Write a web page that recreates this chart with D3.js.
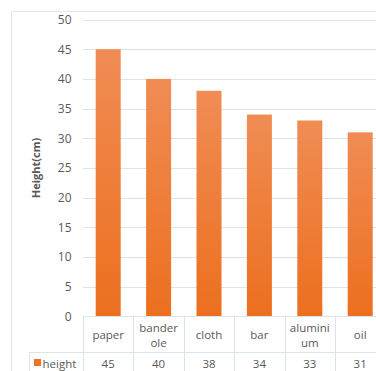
<!DOCTYPE html>
<html><head><meta charset="utf-8">
<script src="https://cdn.jsdelivr.net/npm/d3@7"></script>
<style>html,body{margin:0;padding:0;background:#fff;overflow:hidden}</style>
</head><body>
<svg id="c" width="376" height="371"></svg>
<script>
const categories = ["paper", "banderole", "cloth", "bar", "aluminium", "oil"];
const categoryLines = [["paper"], ["bander", "ole"], ["cloth"], ["bar"], ["alumini", "um"], ["oil"]];
const heights = [45, 40, 38, 34, 33, 31];
const yTicks = [0, 5, 10, 15, 20, 25, 30, 35, 40, 45, 50];
const seriesName = "height";
const yTitle = "Height(cm)";

const svg = d3.select("#c");
const font = "'Open Sans', sans-serif";
const textCol = "#595959";
const gridCol = "#dde3ea";

const defs = svg.append("defs");
const g = defs.append("linearGradient").attr("id", "barGrad").attr("x1", 0).attr("y1", 0).attr("x2", 0).attr("y2", 1);
g.append("stop").attr("offset", "0%").attr("stop-color", "#f08c54");
g.append("stop").attr("offset", "100%").attr("stop-color", "#ec6f1e");

// outer border
svg.append("rect").attr("x", 11.5).attr("y", 11.5).attr("width", 380).attr("height", 380)
  .attr("fill", "none").attr("stroke", "#e3e6ea");

const x = d3.scaleBand().domain(categories).range([83, 83 + 50.4 * 6]).paddingInner(0).paddingOuter(0);
const y = d3.scaleLinear().domain([0, 50]).range([316.5, 19.5]);

// gridlines
svg.append("g").selectAll("line").data(yTicks.filter(d => d > 0)).join("line")
  .attr("x1", 83).attr("x2", 376).attr("y1", d => Math.round(y(d)) + 0.5).attr("y2", d => Math.round(y(d)) + 0.5)
  .attr("stroke", gridCol);

// y axis labels
const yAxis = d3.axisLeft(y).tickValues(yTicks).tickSize(0).tickPadding(0);
const ya = svg.append("g").attr("transform", "translate(71.5,0)").call(yAxis);
ya.select(".domain").remove();
ya.selectAll("text").attr("font-family", font).attr("font-size", 12).attr("fill", textCol);

// bars
const bw = 25;
svg.append("g").selectAll("rect").data(heights).join("rect")
  .attr("x", (d, i) => x(categories[i]) + (x.bandwidth() - bw) / 2)
  .attr("y", d => y(d))
  .attr("width", bw)
  .attr("height", d => y(0) - y(d))
  .attr("fill", "url(#barGrad)");

// table lines
const tbl = svg.append("g").attr("stroke", gridCol).attr("fill", "none");
tbl.append("line").attr("x1", 83).attr("x2", 376).attr("y1", 316.5).attr("y2", 316.5);
tbl.append("line").attr("x1", 29).attr("x2", 376).attr("y1", 352.5).attr("y2", 352.5);
tbl.append("line").attr("x1", 29.5).attr("x2", 29.5).attr("y1", 352).attr("y2", 371);
categories.forEach((c, i) => {
  const xx = Math.round(x(c)) + 0.5;
  tbl.append("line").attr("x1", xx).attr("x2", xx).attr("y1", 316).attr("y2", 371);
});

// category labels
const cl = svg.append("g");
categories.forEach((c, i) => {
  const lines = categoryLines[i];
  const cx = x(c) + x.bandwidth() / 2;
  const t = cl.append("text").attr("x", cx).attr("text-anchor", "middle")
    .attr("font-family", font).attr("font-size", 11.5).attr("fill", textCol);
  if (lines.length === 1) {
    t.append("tspan").attr("x", cx).attr("y", 339).text(lines[0]);
  } else {
    t.append("tspan").attr("x", cx).attr("y", 331.5).text(lines[0]);
    t.append("tspan").attr("x", cx).attr("y", 346.5).text(lines[1]);
  }
});

// data row
svg.append("g").selectAll("text").data(heights).join("text")
  .attr("x", (d, i) => x(categories[i]) + x.bandwidth() / 2)
  .attr("y", 368)
  .attr("text-anchor", "middle")
  .attr("font-family", font).attr("font-size", 11.5).attr("fill", textCol)
  .text(d => d);

// legend key
svg.append("rect").attr("x", 34).attr("y", 359).attr("width", 7).attr("height", 7).attr("fill", "#ed7424");
svg.append("text").attr("x", 42.5).attr("y", 368).attr("font-family", font).attr("font-size", 11.5)
  .attr("fill", textCol).text(seriesName);

// y title
svg.append("text").attr("transform", "translate(40,168) rotate(-90)").attr("text-anchor", "middle")
  .attr("font-family", font).attr("font-size", 11).attr("font-weight", "bold").attr("fill", textCol)
  .text(yTitle);
</script>
</body></html>
